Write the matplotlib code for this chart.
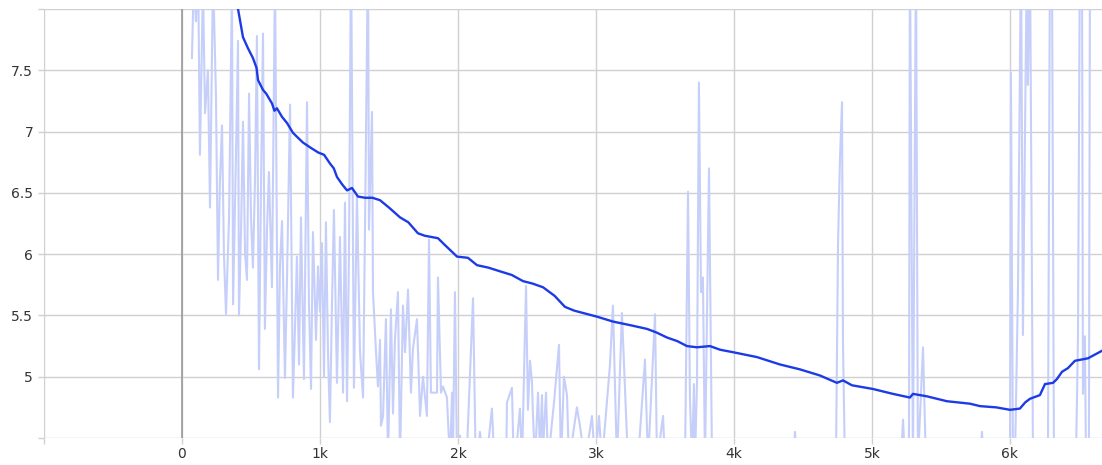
import matplotlib
matplotlib.use("Agg")
import matplotlib.pyplot as plt

# ---- data ----
raw_steps = [72, 87, 101, 116, 130, 152, 167, 188, 203, 225, 246, 261, 275, 290, 304, 319, 341, 362, 370, 391,
             406, 413, 428, 442, 457, 471, 486, 500, 514, 529, 543, 558, 572, 587, 601, 616, 630, 652, 674, 696,
             710, 725, 746, 761, 783, 804, 819, 833, 848, 862, 884, 906, 920, 935, 949, 971, 986, 1000, 1014, 1029,
             1043, 1058, 1072, 1087, 1101, 1123, 1145, 1167, 1181, 1196, 1210, 1225, 1246, 1268, 1290, 1312, 1326, 1348, 1355, 1377,
             1384, 1406, 1420, 1435, 1442, 1457, 1478, 1493, 1514, 1529, 1543, 1565, 1580, 1601, 1616, 1638, 1659, 1674, 1703, 1725,
             1746, 1775, 1790, 1804, 1848, 1855, 1877, 1891, 1920, 1942, 1957, 1964, 1978, 1993, 2014, 2058, 2109, 2130, 2159, 2196,
             2246, 2268, 2348, 2355, 2391, 2406, 2449, 2464, 2493, 2507, 2522, 2536, 2543, 2558, 2580, 2594, 2609, 2616, 2638, 2652,
             2696, 2717, 2732, 2746, 2768, 2790, 2804, 2862, 2884, 2920, 2971, 2993, 3022, 3043, 3101, 3123, 3152, 3188, 3203, 3232,
             3304, 3355, 3377, 3428, 3442, 3486, 3500, 3645, 3667, 3681, 3696, 3710, 3717, 3732, 3746, 3761, 3775, 3790, 3819, 3841,
             4428, 4442, 4457, 4739, 4754, 4768, 4783, 4790, 4804, 5210, 5225, 5239, 5268, 5275, 5297, 5319, 5333, 5370, 5391, 5783,
             5797, 5812, 6000, 6007, 6022, 6036, 6058, 6080, 6094, 6123, 6130, 6145, 6167, 6275, 6290, 6304, 6319, 6478, 6493, 6507,
             6522, 6529, 6543, 6551, 6572, 6580, 6594, 6623, 6652, 6681]
raw_vals = [7.60, 8.30, 7.90, 8.40, 6.81, 8.20, 7.15, 7.50, 6.38, 8.30, 7.30, 5.79, 6.60, 7.05, 6.00, 5.51, 6.30, 8.20, 5.59, 6.80,
            7.74, 5.50, 6.20, 7.08, 6.00, 5.79, 7.31, 6.30, 5.89, 6.60, 7.78, 5.06, 6.50, 7.80, 5.39, 6.20, 6.67, 5.73, 8.30, 4.83,
            5.90, 6.27, 4.99, 5.80, 7.22, 4.83, 5.40, 5.98, 5.10, 6.30, 4.98, 7.24, 5.60, 4.90, 6.18, 5.30, 5.90, 5.53, 6.09, 5.00,
            6.26, 5.20, 4.63, 5.60, 6.36, 4.95, 6.14, 4.87, 6.42, 4.80, 6.00, 8.50, 4.91, 6.47, 5.20, 4.83, 6.20, 8.50, 6.20, 7.16,
            5.69, 5.20, 4.92, 5.30, 4.60, 4.68, 5.47, 4.30, 5.55, 4.70, 5.30, 5.69, 4.30, 5.58, 5.20, 5.71, 4.87, 5.23, 5.47, 4.68,
            5.00, 4.68, 6.12, 4.87, 4.87, 5.81, 4.87, 4.92, 4.83, 4.30, 4.87, 4.40, 5.69, 4.30, 4.52, 4.20, 5.64, 4.20, 4.55, 4.20,
            4.74, 4.20, 4.20, 4.79, 4.91, 4.20, 4.74, 4.30, 5.74, 4.73, 5.13, 4.96, 4.70, 4.30, 4.87, 4.40, 4.85, 4.40, 4.87, 4.30,
            4.79, 5.06, 5.26, 4.30, 5.00, 4.85, 4.30, 4.75, 4.60, 4.30, 4.68, 4.30, 4.68, 4.30, 5.09, 5.58, 4.30, 5.52, 5.10, 4.30,
            4.30, 5.14, 4.30, 5.51, 4.30, 4.68, 4.30, 4.30, 6.51, 4.82, 4.30, 4.94, 4.30, 4.95, 7.40, 5.69, 5.81, 4.30, 6.70, 4.30,
            4.20, 4.55, 4.30, 4.30, 6.08, 6.77, 7.24, 5.27, 4.30, 4.30, 4.65, 4.30, 4.30, 8.50, 4.30, 8.50, 4.30, 5.24, 4.30, 4.30,
            4.55, 4.30, 4.30, 7.48, 4.30, 4.30, 5.70, 8.50, 5.34, 8.50, 7.38, 8.50, 4.30, 4.30, 8.50, 8.50, 4.30, 4.30, 5.32, 8.50,
            8.50, 4.86, 5.33, 4.30, 4.30, 8.50, 8.50, 8.50, 8.50, 8.50]

smooth_steps = [72, 200, 300, 406, 442, 478, 514, 540, 551, 587, 610, 652, 670, 688, 725, 761, 804, 840, 877, 930,
                986, 1030, 1072, 1100, 1123, 1160, 1196, 1232, 1275, 1326, 1380, 1435, 1500, 1580, 1640, 1710, 1760, 1855, 1900, 1993,
                2072, 2138, 2220, 2304, 2390, 2471, 2540, 2616, 2700, 2775, 2840, 2906, 3007, 3123, 3250, 3370, 3440, 3514, 3590, 3659,
                3732, 3826, 3900, 3993, 4080, 4167, 4250, 4333, 4478, 4623, 4746, 4790, 4855, 5007, 5152, 5275, 5297, 5398, 5543, 5710,
                5783, 5900, 6000, 6072, 6110, 6145, 6217, 6254, 6312, 6340, 6377, 6420, 6471, 6565, 6681]
smooth_vals = [9.40, 8.80, 8.35, 8.00, 7.77, 7.68, 7.60, 7.52, 7.42, 7.34, 7.31, 7.23, 7.17, 7.19, 7.12, 7.07, 6.99, 6.95, 6.91, 6.87,
               6.83, 6.81, 6.74, 6.70, 6.63, 6.57, 6.52, 6.54, 6.47, 6.46, 6.46, 6.44, 6.38, 6.30, 6.26, 6.17, 6.15, 6.13, 6.08, 5.98,
               5.97, 5.91, 5.89, 5.86, 5.83, 5.78, 5.76, 5.73, 5.66, 5.57, 5.54, 5.52, 5.49, 5.45, 5.42, 5.39, 5.36, 5.32, 5.29, 5.25,
               5.24, 5.25, 5.22, 5.20, 5.18, 5.16, 5.13, 5.10, 5.06, 5.01, 4.95, 4.97, 4.93, 4.90, 4.86, 4.83, 4.86, 4.84, 4.80, 4.78,
               4.76, 4.75, 4.73, 4.74, 4.79, 4.82, 4.85, 4.94, 4.95, 4.98, 5.04, 5.07, 5.13, 5.15, 5.22]

x_ticks = [-1000, 0, 1000, 2000, 3000, 4000, 5000, 6000]
x_labels = ["", "0", "1k", "2k", "3k", "4k", "5k", "6k"]
y_ticks = [4.5, 5, 5.5, 6, 6.5, 7, 7.5, 8]
y_labels = ["", "5", "5.5", "6", "6.5", "7", "7.5", ""]

# ---- figure ----
fig = plt.figure(figsize=(11.02, 4.65), dpi=100)
ax = fig.add_axes([44 / 1102, 27 / 465, 1 - 44 / 1102, (438 - 9) / 465])

grid_c = "#cfcfd4"
ax.set_xlim(-1000, 6667)
ax.set_ylim(4.5, 8.0)
ax.set_xticks(x_ticks)
ax.set_xticklabels(x_labels)
ax.set_yticks(y_ticks)
ax.set_yticklabels(y_labels)
ax.grid(True, color=grid_c, linewidth=1.0)
ax.set_axisbelow(True)
for s in ax.spines.values():
    s.set_visible(False)
ax.tick_params(axis="both", colors=grid_c, labelcolor="#333333", labelsize=10, length=4.3, width=1.0)
ax.tick_params(axis="x", pad=2.5)
ax.tick_params(axis="y", pad=3.5)
ax.axvline(0, color="#9a9a9a", linewidth=1.2, zorder=1)

ax.plot(raw_steps, raw_vals, color="#c6cff9", linewidth=1.5, zorder=2)
ax.plot(smooth_steps, smooth_vals, color="#1c3be6", linewidth=1.7, zorder=3)

fig.savefig("out.png", dpi=100)
